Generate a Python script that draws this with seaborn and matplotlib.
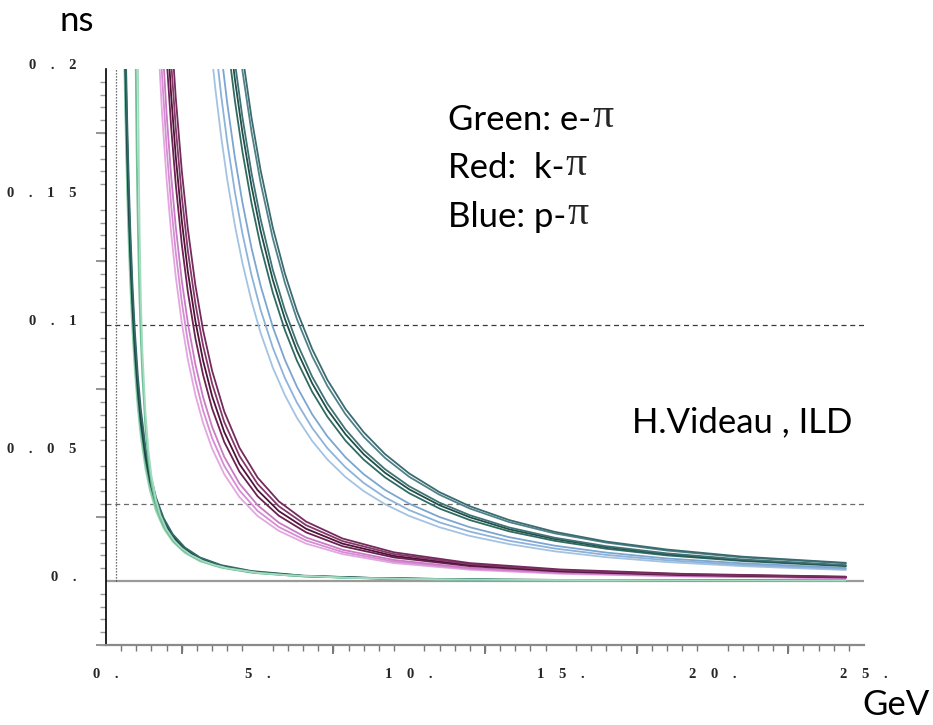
import pandas as pd
import matplotlib
matplotlib.use("Agg")
import matplotlib.pyplot as plt
from matplotlib.ticker import MultipleLocator
import seaborn as sns

# momentum grids (GeV) for each particle pair
p_e = [0.6, 0.65, 0.7, 0.75, 0.8, 0.87, 0.95, 1.05, 1.15, 1.3, 1.45, 1.65, 1.9, 2.2, 2.6, 3.1, 3.8, 4.8, 6.5, 9, 13, 18, 24.4]
p_k = [1.7, 1.85, 2.0, 2.15, 2.3, 2.5, 2.7, 2.95, 3.2, 3.5, 3.9, 4.4, 5.0, 5.7, 6.6, 7.8, 9.5, 12, 15, 19, 24.4]
p_p = [3.4, 3.6, 3.8, 4.0, 4.25, 4.5, 4.8, 5.1, 5.5, 5.9, 6.3, 6.8, 7.3, 7.9, 8.5, 9.2, 10, 11, 12, 13.3, 14.8, 16.5, 18.5, 21, 24.4]

# time-of-flight differences (ps), e - pi
dt_e = {
    "e0": [204.1,174.2,150.4,131.2,115.4,97.7,82.0,67.2,56.1,43.9,35.3,27.3,20.6,15.4,11.0,7.7,5.2,3.2,1.8,0.9,0.4,0.2,0.1],
    "e1": [213.6,182.4,157.5,137.4,120.8,102.3,85.9,70.4,58.7,46.0,37.0,28.6,21.6,16.1,11.5,8.1,5.4,3.4,1.8,1.0,0.5,0.2,0.1],
    "e2": [223.4,190.7,164.7,143.6,126.4,107.0,89.8,73.6,61.4,48.1,38.7,29.9,22.5,16.8,12.0,8.5,5.6,3.5,1.9,1.0,0.5,0.3,0.1],
    "e3": [233.3,199.2,172.0,150.0,132.0,111.7,93.8,76.9,64.1,50.2,40.4,31.2,23.5,17.6,12.6,8.9,5.9,3.7,2.0,1.1,0.5,0.3,0.1],
    "e4": [243.5,207.9,179.6,156.6,137.8,116.6,97.9,80.2,66.9,52.4,42.2,32.6,24.6,18.3,13.1,9.2,6.2,3.9,2.1,1.1,0.5,0.3,0.1],
}
# two steeper e - pi curves with their own momentum points
p_e5 = [0.97,0.99,1.01,1.04,1.07,1.10,1.15,1.20,1.30,1.40,1.50,1.65,1.80,2.0,2.25,2.5,2.8,3.2,3.6,4.0,5,6,8,10,12,15,18,21,24.4]
dt_e5 = [215,190,168,145,127,112,94,80,60,47,38,29.5,24,19.3,15.2,12.4,9.9,7.6,6.0,4.9,3.1,2.2,1.22,0.78,0.54,0.35,0.24,0.18,0.13]
p_e6 = [1.03,1.05,1.08,1.11,1.15,1.2,1.3,1.4,1.5,1.65,1.8,2.0,2.25,2.5,2.8,3.2,3.6,4.0,5,6,8,10,12,15,18,21,24.4]
dt_e6 = [240,205,165,136,110,90,66,51,41,31.5,25.5,20.2,15.8,12.8,10.2,7.8,6.2,5.0,3.2,2.25,1.25,0.8,0.55,0.36,0.25,0.18,0.14]

# k - pi
dt_k = {
    "k0": [215.4,182.5,156.6,135.8,118.9,100.8,86.5,72.6,61.8,51.7,41.7,32.8,25.4,19.6,14.6,10.5,7.0,4.4,2.8,1.8,1.1],
    "k1": [232.8,197.2,169.2,146.7,128.4,108.9,93.5,78.4,66.7,55.8,45.0,35.4,27.4,21.1,15.8,11.3,7.6,4.8,3.1,1.9,1.2],
    "k2": [250.8,212.5,182.3,158.1,138.4,117.3,100.7,84.5,71.9,60.2,48.5,38.1,29.6,22.8,17.0,12.2,8.2,5.1,3.3,2.1,1.2],
    "k3": [281.0,238.1,204.2,177.1,155.0,131.5,112.9,94.7,80.6,67.4,54.3,42.7,33.1,25.5,19.0,13.6,9.2,5.8,3.7,2.3,1.4],
    "k4": [300.8,254.8,218.6,189.6,165.9,140.7,120.8,101.4,86.2,72.2,58.2,45.7,35.5,27.3,20.4,14.6,9.8,6.2,3.9,2.5,1.5],
    "k5": [321.2,272.1,233.5,202.5,177.2,150.3,129.0,108.2,92.1,77.1,62.1,48.9,37.9,29.2,21.8,15.6,10.5,6.6,4.2,2.6,1.6],
    "k6": [342.3,290.0,248.8,215.8,188.9,160.2,137.5,115.4,98.1,82.1,66.2,52.1,40.4,31.1,23.2,16.6,11.2,7.0,4.5,2.8,1.7],
}
# p - pi
dt_p = {
    "p0": [215.8,192.9,173.4,156.7,139.0,124.2,109.3,96.9,83.4,72.6,63.7,54.7,47.5,40.6,35.1,30.0,25.4,21.0,17.6,14.4,11.6,9.3,7.4,5.8,4.3],
    "p1": [235.8,210.8,189.5,171.3,152.0,135.7,119.4,105.9,91.2,79.3,69.6,59.8,51.9,44.4,38.3,32.7,27.7,22.9,19.3,15.7,12.7,10.2,8.1,6.3,4.7],
    "p2": [256.8,229.5,206.3,186.5,165.5,147.8,130.0,115.3,99.3,86.4,75.8,65.1,56.5,48.3,41.7,35.6,30.2,25.0,21.0,17.1,13.8,11.1,8.8,6.9,5.1],
    "p3": [291.4,260.4,234.1,211.6,187.7,167.7,147.6,130.9,112.7,98.0,86.0,73.9,64.2,54.8,47.4,40.5,34.3,28.3,23.8,19.4,15.7,12.6,10.0,7.8,5.8],
    "p4": [304.4,272.1,244.6,221.1,196.1,175.2,154.2,136.7,117.7,102.4,89.9,77.2,67.0,57.3,49.5,42.3,35.8,29.6,24.9,20.2,16.4,13.2,10.5,8.1,6.0],
    "p5": [314.7,281.2,252.8,228.5,202.7,181.1,159.3,141.3,121.6,105.8,92.9,79.8,69.3,59.2,51.1,43.7,37.0,30.6,25.7,20.9,16.9,13.6,10.8,8.4,6.2],
    "p6": [346.3,309.5,278.3,251.5,223.1,199.3,175.4,155.5,133.9,116.5,102.2,87.8,76.2,65.1,56.3,48.1,40.7,33.7,28.3,23.0,18.6,15.0,11.9,9.2,6.9],
    "p7": [357.2,319.3,287.0,259.4,230.2,205.6,180.9,160.4,138.1,120.1,105.4,90.6,78.6,67.2,58.1,49.6,42.0,34.7,29.2,23.8,19.2,15.4,12.3,9.5,7.1],
}

colors = {
    "e0": "#95d5b3", "e1": "#7ac59f", "e2": "#25524f", "e3": "#1a4343", "e4": "#34696a",
    "e5": "#6fbf98", "e6": "#a3dbbe",
    "k0": "#e4a6e0", "k1": "#d68dd2", "k2": "#c97bc5", "k3": "#6c2152",
    "k4": "#4f1339", "k5": "#853868", "k6": "#742a5c",
    "p0": "#a3c3e3", "p1": "#8db3da", "p2": "#7ca5cf", "p3": "#2f6b63",
    "p4": "#1f4f46", "p5": "#3f7176", "p6": "#4f8188", "p7": "#3b6b6f",
}

frames = []
for grid, table in ((p_e, dt_e), (p_k, dt_k), (p_p, dt_p)):
    for name, vals in table.items():
        frames.append(pd.DataFrame({"p": grid, "dt_ps": vals, "curve": name}))
frames.append(pd.DataFrame({"p": p_e5, "dt_ps": dt_e5, "curve": "e5"}))
frames.append(pd.DataFrame({"p": p_e6, "dt_ps": dt_e6, "curve": "e6"}))
df = pd.concat(frames, ignore_index=True)
df["dt_ns"] = df["dt_ps"] / 1000.0

sns.set_theme(style="white")
plt.rcParams["font.family"] = ["Lato", "DejaVu Sans"]

fig = plt.figure(figsize=(9.33, 7.25), dpi=100)
ax = fig.add_axes([106/933, 1-645/725, 758/933, 576/725])

# reference levels and the low-momentum marker
ax.hlines(0.1, 0, 25, colors="#3a3a3a", linestyles=(0, (4, 3)), lw=0.9, zorder=1)
ax.hlines(0.03, 0, 25, colors="#6a6a6a", linestyles=(0, (4, 3)), lw=0.9, zorder=1)
ax.hlines(0, 0, 25, colors="#9a9a9a", lw=1.6, zorder=1)
ax.vlines(0.32, 0, 0.2, colors="#444444", linestyles=(0, (1, 1.4)), lw=0.9, zorder=1)

sns.lineplot(data=df, x="p", y="dt_ns", hue="curve", palette=colors, estimator=None,
             sort=False, legend=False, lw=1.3, ax=ax, zorder=3)

ax.set_xlim(0, 25)
ax.set_ylim(-0.025, 0.2)
ax.set_xlabel("")
ax.set_ylabel("")
for s in ("top", "right"):
    ax.spines[s].set_visible(False)
ax.spines["left"].set_color("black")
ax.spines["left"].set_linewidth(1.2)
ax.spines["bottom"].set_color("#8a8a8a")
ax.spines["bottom"].set_linewidth(1.6)

EM = "\u2003"
def spaced(s):
    return EM.join(s)

ytick_vals = [0, 0.05, 0.1, 0.15, 0.2]
ytick_text = ["0.", "0.05", "0.1", "0.15", "0.2"]
xtick_vals = [0, 5, 10, 15, 20, 25]
xtick_text = ["0.", "5.", "10.", "15.", "20.", "25."]

ax.set_yticks(ytick_vals, [spaced(t) for t in ytick_text])
ax.set_xticks(xtick_vals, [spaced(t) for t in xtick_text])
ax.yaxis.set_minor_locator(MultipleLocator(0.005))
ax.xaxis.set_minor_locator(MultipleLocator(0.5))
ax.tick_params(axis="y", which="major", direction="out", length=10.5, width=1.1, color="#555555", pad=11)
ax.tick_params(axis="y", which="minor", direction="out", length=4.5, width=1.0, color="#9a9a9a", left=True)
ax.tick_params(axis="x", which="major", direction="out", length=9.4, width=1.1, color="#444444", pad=7)
ax.tick_params(axis="x", which="minor", direction="out", length=4.3, width=1.0, color="#777777", bottom=True)

for lab in ax.get_yticklabels() + ax.get_xticklabels():
    lab.set_fontfamily(["Liberation Serif", "DejaVu Serif"])
    lab.set_fontweight("bold")
    lab.set_fontsize(10.5)
for lab in ax.get_yticklabels():
    lab.set_va("baseline")

# intermediate tick marks
secy = ax.secondary_yaxis("left")
secy.set_yticks([-0.025, 0.025, 0.075, 0.125, 0.175])
secy.tick_params(length=7.2, width=1.1, color="#777777", labelleft=False)
secy.spines["left"].set_visible(False)
secx = ax.secondary_xaxis("bottom")
secx.set_xticks([2.5, 7.5, 12.5, 17.5, 22.5])
secx.tick_params(length=6.5, width=1.1, color="#555555", labelbottom=False)
secx.spines["bottom"].set_visible(False)

TXT = 25
def fig_text(x, y, s, **kw):
    return fig.text(x/933, 1 - y/725, s, fontsize=TXT, va="baseline", ha="left", color="black", **kw)

fig_text(60, 31, "ns")
fig_text(862, 715, "GeV")
fig_text(632, 432, "H.Videau , ILD")
for y, s in ((130, "Green: e-"), (178, "Red:  k-"), (227, "Blue: p-")):
    t = fig_text(448, y, s)
    ax.annotate("\u03c0", xy=(1, 0), xycoords=t, xytext=(1, 0), textcoords="offset points",
                va="bottom", ha="left", fontsize=30, family=["Liberation Serif", "DejaVu Serif"])

fig.savefig("out.png", dpi=100)
